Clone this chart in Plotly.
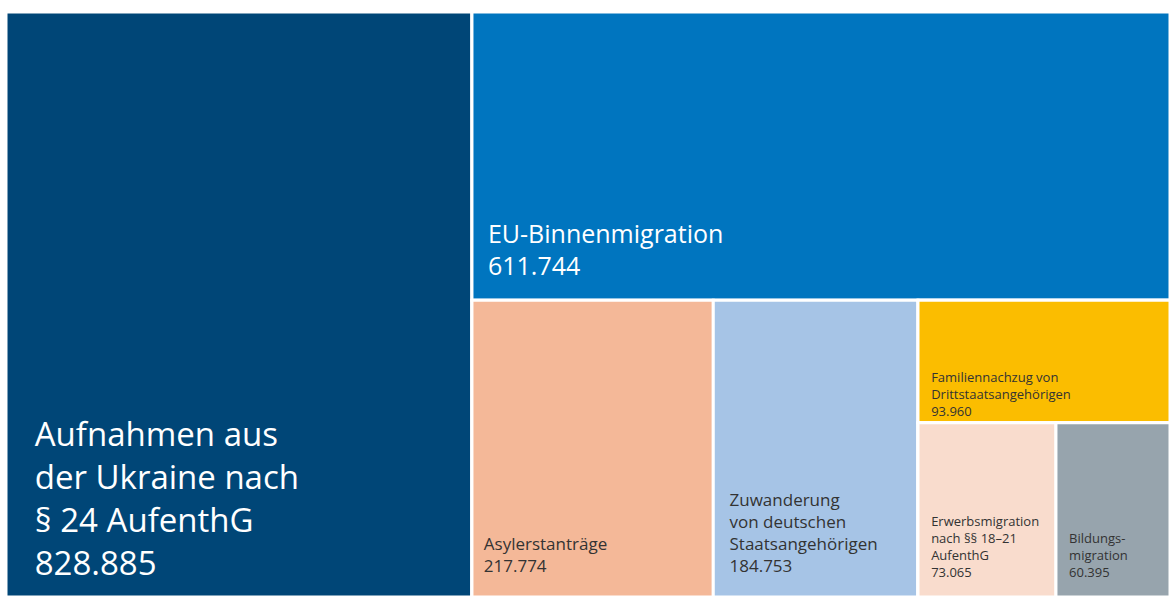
import plotly.graph_objects as go

labels = [
    "Aufnahmen aus<br>der Ukraine nach<br>§ 24 AufenthG",
    "EU-Binnenmigration",
    "Asylerstanträge",
    "Zuwanderung<br>von deutschen<br>Staatsangehörigen",
    "Familiennachzug von<br>Drittstaatsangehörigen",
    "Erwerbsmigration<br>nach §§ 18–21<br>AufenthG",
    "Bildungs-<br>migration",
]
values = [828885, 611744, 217774, 184753, 93960, 73065, 60395]
value_text = ["828.885", "611.744", "217.774", "184.753", "93.960", "73.065", "60.395"]
colors = ["#004677", "#0075BF", "#F4B898", "#A6C4E6", "#FBBD00", "#F9DCCD", "#97A4AD"]
text_colors = ["#FFFFFF", "#FFFFFF", "#333333", "#333333", "#333333", "#333333", "#333333"]
font_sizes = [33, 25, 17, 17, 13, 13, 13]
indent = [3, 2, 2, 3, 3, 3, 3]          # leading no-break spaces per line
lift = [3, 2, 1, 1, 0, 1, 1]            # bottom spacing: 0 none, 1 line, 2 sup, 3 double sup

# layout groups (invisible containers) giving the nesting of the reference
parent_of = ["root", "g1", "g2", "g2", "g3", "g4", "g4"]
groups = ["root", "g1", "g2", "g3", "g4"]
group_parent = ["", "root", "g1", "g2", "g3"]


def subtotal(g):
    tot = 0
    for i, p in enumerate(parent_of):
        if p == g:
            tot += values[i]
    for gg, gp in zip(groups, group_parent):
        if gp == g:
            tot += subtotal(gg)
    return tot


def tile_text(i):
    lines = labels[i].split("<br>") + [value_text[i]]
    pre = "\u00a0" * indent[i]
    s = "<br>".join(pre + ln for ln in lines)
    tiny = "<span style='font-size:1px'>\u00a0</span>"
    if lift[i] == 1:
        s += "<br>" + tiny
    elif lift[i] == 2:
        s += "<br><sup>" + tiny + "</sup>"
    elif lift[i] == 3:
        s += "<br><sup><sup>" + tiny + "</sup></sup>"
    return s


n = len(labels)
# root first, then leaves, then the other groups (sibling order = data order)
ids = ["root"] + [f"n{i}" for i in range(n)] + groups[1:]
parents = [""] + parent_of + group_parent[1:]
all_values = [subtotal("root")] + values + [subtotal(g) for g in groups[1:]]
ng = len(groups) - 1
all_labels = [""] + labels + [""] * ng
all_text = [""] + [tile_text(i) for i in range(n)] + [""] * ng
all_colors = ["#FFFFFF"] + colors + ["#FFFFFF"] * ng
all_tc = ["#FFFFFF"] + text_colors + ["#FFFFFF"] * ng
all_fs = [1] + font_sizes + [1] * ng

fig = go.Figure(go.Treemap(
    ids=ids,
    labels=all_labels,
    parents=parents,
    values=all_values,
    branchvalues="total",
    text=all_text,
    texttemplate="%{text}",
    textposition="bottom left",
    textfont=dict(family="Open Sans, sans-serif", color=all_tc, size=all_fs),
    marker=dict(colors=all_colors, line=dict(color="white", width=3),
                pad=dict(t=0, l=0, r=0, b=0)),
    tiling=dict(packing="slice-dice", pad=0),
    sort=False,
    hovertemplate="%{label}<extra></extra>",
    pathbar=dict(visible=False),
))
fig.update_layout(
    width=1170, height=597,
    margin=dict(l=6, r=0, t=12, b=0),
    paper_bgcolor="white",
)
fig.write_html("out.html", config={"displayModeBar": False},
               post_script="document.body.style.margin='0';")
